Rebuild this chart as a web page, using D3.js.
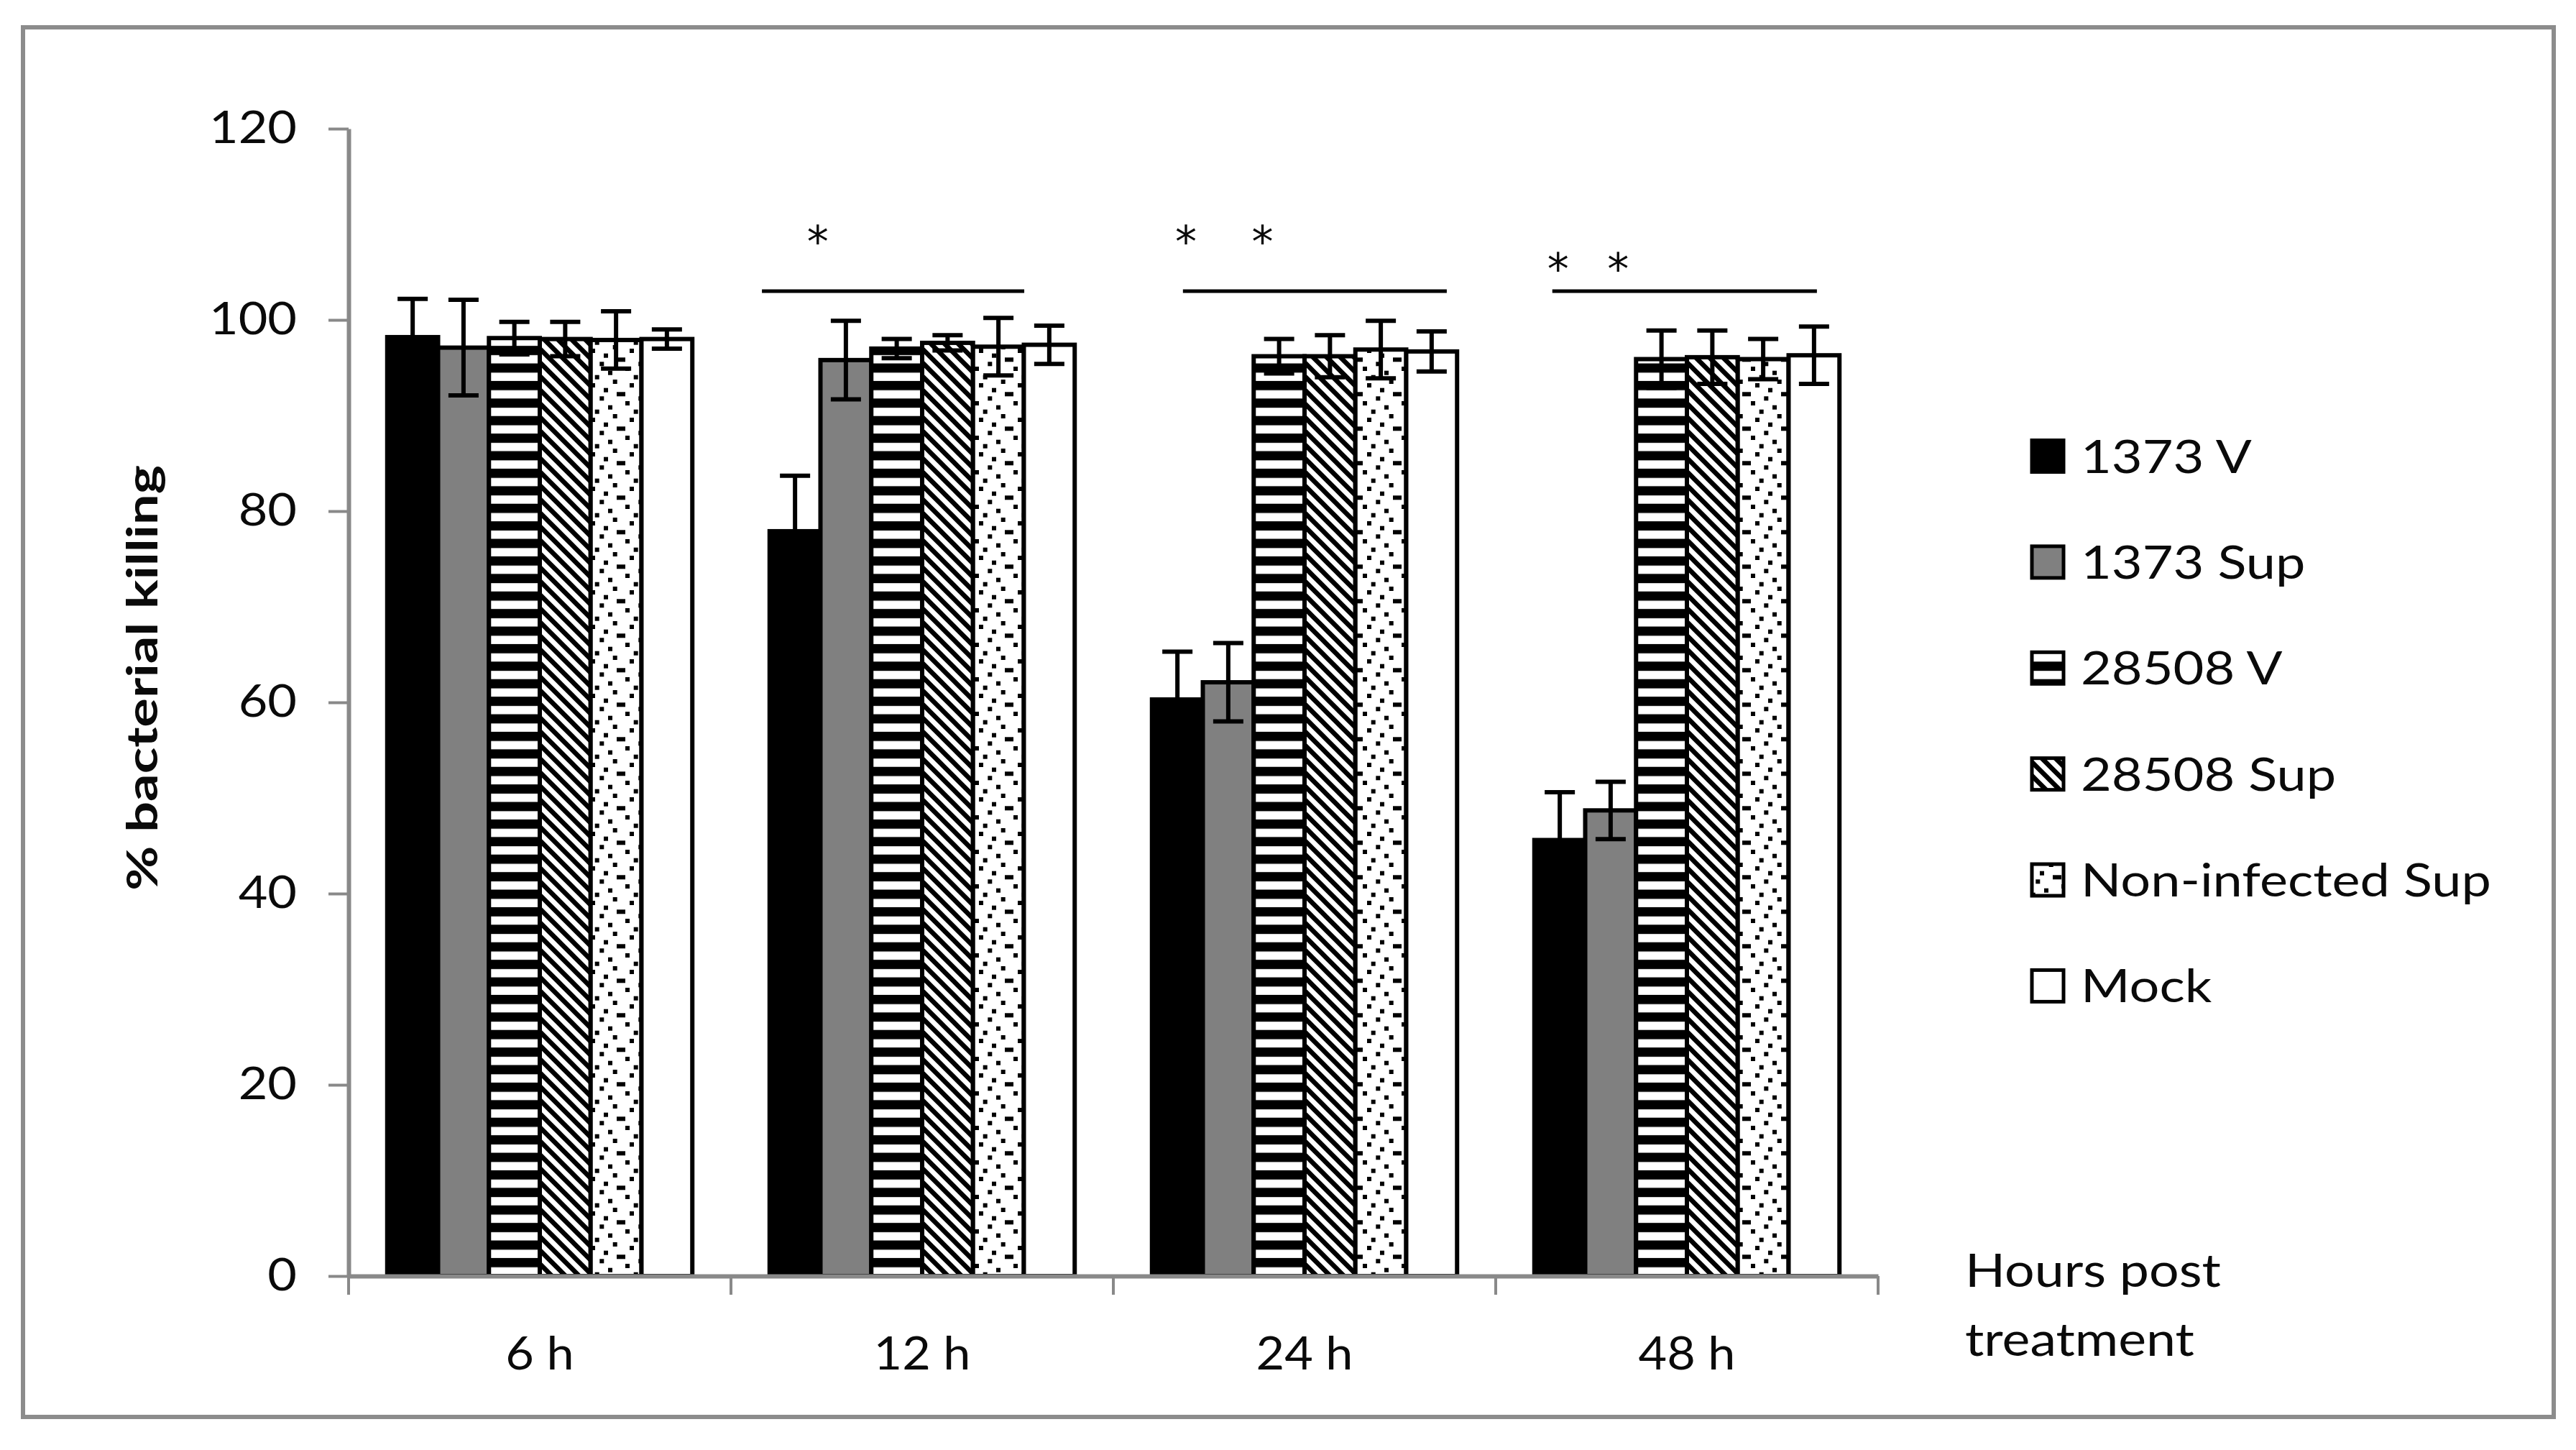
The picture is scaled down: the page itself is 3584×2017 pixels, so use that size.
<!DOCTYPE html>
<html><head><meta charset="utf-8">
<script src="https://cdn.jsdelivr.net/npm/d3@7"></script>
<style>body{margin:0;background:#fff;} svg{display:block;}</style>
</head><body>
<svg id="chart" width="3584" height="2017"></svg>
<script>
// ---------------- data ----------------
const categories = ["6 h", "12 h", "24 h", "48 h"];
const seriesNames = ["1373 V", "1373 Sup", "28508 V", "28508 Sup", "Non-infected Sup", "Mock"];
const mean1373V    = [98.2, 77.9, 60.3, 45.6];
const err1373V     = [4.0, 5.8, 5.0, 5.0];
const mean1373Sup  = [97.1, 95.8, 62.1, 48.7];
const err1373Sup   = [5.0, 4.1, 4.1, 3.0];
const mean28508V   = [98.1, 97.0, 96.2, 95.9];
const err28508V    = [1.7, 1.0, 1.8, 3.0];
const mean28508Sup = [98.0, 97.6, 96.2, 96.1];
const err28508Sup  = [1.8, 0.8, 2.2, 2.8];
const meanNonInf   = [97.9, 97.2, 96.9, 95.9];
const errNonInf    = [3.0, 3.0, 3.0, 2.1];
const meanMock     = [98.0, 97.4, 96.7, 96.3];
const errMock      = [1.0, 2.0, 2.1, 3.0];
const yTickValues  = [0, 20, 40, 60, 80, 100, 120];
const yTitle = "% bacterial killing";
const xTitleLines = ["Hours post", "treatment"];
// significance annotations (value units; span given as fraction of the category band)
const sigCategories = ["12 h", "24 h", "48 h"];
const sigLineValue  = [103.0, 103.0, 103.0];
const sigSpanStart  = [0.081, 0.182, 0.148];
const sigSpanEnd    = [0.767, 0.872, 0.840];
const sigStarValue  = [109.0, 109.0, 106.2];
const sigStarPos    = [[0.227], [0.19, 0.39], [0.163, 0.32]];

const allMeans = [mean1373V, mean1373Sup, mean28508V, mean28508Sup, meanNonInf, meanMock];
const allErrs  = [err1373V, err1373Sup, err28508V, err28508Sup, errNonInf, errMock];
const series = seriesNames.map((name, i) => ({
  name, values: categories.map((c, j) => ({cat: c, name, v: allMeans[i][j], e: allErrs[i][j]}))
}));

// ---------------- layout ----------------
const FONT = "Lato, 'Open Sans', sans-serif";
const AXIS_GRAY = "#898989";
const svg = d3.select("#chart");
svg.append("rect").attr("width", 3584).attr("height", 2017).attr("fill", "#fff");
svg.append("rect").attr("x", 32).attr("y", 38).attr("width", 3521).attr("height", 1933)
  .attr("fill", "none").attr("stroke", "#8c8c8c").attr("stroke-width", 6);

const defs = svg.append("defs");
// horizontal stripes
const pS = defs.append("pattern").attr("id", "pStripe").attr("patternUnits", "userSpaceOnUse")
  .attr("width", 20).attr("height", 24.4);
pS.append("rect").attr("width", 20).attr("height", 24.4).attr("fill", "#000");
pS.append("rect").attr("y", 6).attr("width", 20).attr("height", 11.5).attr("fill", "#fff");
// backslash diagonal hatch
const hs = 19;
const pH = defs.append("pattern").attr("id", "pHatch").attr("patternUnits", "userSpaceOnUse")
  .attr("width", hs).attr("height", hs);
pH.append("rect").attr("width", hs).attr("height", hs).attr("fill", "#fff");
pH.append("path").attr("d", `M-4,-4L${hs+4},${hs+4} M-4,${hs-4}L4,${hs+4} M${hs-4},-4L${hs+4},4`)
  .attr("stroke", "#000").attr("stroke-width", 6.6);
// sparse dots
const pD = defs.append("pattern").attr("id", "pDots").attr("patternUnits", "userSpaceOnUse")
  .attr("width", 54).attr("height", 48);
pD.append("rect").attr("width", 54).attr("height", 48).attr("fill", "#fff");
[[12,5],[42.7,0],[0,17.3],[30,11.7],[48,17.3],[24.3,23.3],[6,30],[36,35.7],[17.7,41.7]].forEach(d =>
  pD.append("rect").attr("x", d[0]).attr("y", d[1]).attr("width", 6).attr("height", 6).attr("fill", "#000"));

const fills = {
  "1373 V": "#000", "1373 Sup": "#808080", "28508 V": "url(#pStripe)",
  "28508 Sup": "url(#pHatch)", "Non-infected Sup": "url(#pDots)", "Mock": "#fff"
};

const y = d3.scaleLinear().domain([0, 120]).range([1775, 179]);
const x0 = d3.scaleBand().domain(categories).range([485, 2613]).padding(0);
const x1 = d3.scaleBand().domain(seriesNames).range([0, x0.bandwidth()]).paddingInner(0).paddingOuter(0.76);

// bars
const gBars = svg.append("g");
series.forEach(s => {
  gBars.selectAll(null).data(s.values).enter().append("rect")
    .attr("x", d => x0(d.cat) + x1(d.name))
    .attr("y", d => y(d.v))
    .attr("width", x1.bandwidth())
    .attr("height", d => y(0) - y(d.v))
    .attr("fill", fills[s.name])
    .attr("stroke", "#000").attr("stroke-width", 6);
});

// error bars
const gErr = svg.append("g").attr("stroke", "#000").attr("stroke-width", 6).attr("fill", "none");
const capW = 42;
series.forEach(s => {
  gErr.selectAll(null).data(s.values).enter().append("path")
    .attr("d", d => {
      const cx = x0(d.cat) + x1(d.name) + x1.bandwidth() / 2;
      const yt = y(d.v + d.e), yb = y(d.v - d.e);
      return `M${cx},${yt}V${yb} M${cx - capW/2},${yt}H${cx + capW/2} M${cx - capW/2},${yb}H${cx + capW/2}`;
    });
});

// helper: horizontally stretched text fit to a target width
function fitScale(sel, target) {
  const len = sel.node().getComputedTextLength();
  return target / len;
}

// y axis
const gY = svg.append("g").attr("transform", "translate(485,0)")
  .call(d3.axisLeft(y).tickValues(yTickValues).tickSize(28).tickSizeOuter(0).tickPadding(44));
gY.select(".domain").attr("stroke", AXIS_GRAY).attr("stroke-width", 6);
gY.selectAll(".tick line").attr("stroke", AXIS_GRAY).attr("stroke-width", 4);
gY.selectAll(".tick text").attr("font-family", FONT).attr("font-size", 62).attr("fill", "#0a0a0a");
const sxTick = fitScale(gY.selectAll(".tick text").filter(d => d === 120), 122);
gY.selectAll(".tick text").each(function() {
  const t = d3.select(this);
  t.attr("x", -72 / sxTick).attr("transform", `scale(${sxTick},1)`);
});

// x axis
const gX = svg.append("g").attr("transform", "translate(0,1775)")
  .call(d3.axisBottom(x0).tickSize(0).tickSizeOuter(0).tickPadding(85));
gX.select(".domain").attr("stroke", AXIS_GRAY).attr("stroke-width", 6);
gX.selectAll(".tick text").attr("font-family", FONT).attr("font-size", 64).attr("fill", "#0a0a0a");
const sxCat = fitScale(gX.selectAll(".tick text").filter(d => d === "24 h"), 135);
gX.selectAll(".tick text").attr("transform", `scale(${sxCat},1)`);
const boundaries = categories.map(c => x0(c)).concat([x0.range()[1]]);
gX.selectAll(null).data(boundaries).enter().append("line")
  .attr("x1", d => d).attr("x2", d => d).attr("y1", 0).attr("y2", 26)
  .attr("stroke", AXIS_GRAY).attr("stroke-width", 4);

// significance lines and stars
sigCategories.forEach((c, i) => {
  const bx = x0(c), bw = x0.bandwidth();
  svg.append("line")
    .attr("x1", bx + sigSpanStart[i] * bw).attr("x2", bx + sigSpanEnd[i] * bw)
    .attr("y1", y(sigLineValue[i])).attr("y2", y(sigLineValue[i]))
    .attr("stroke", "#000").attr("stroke-width", 5);
  sigStarPos[i].forEach(f => {
    svg.append("text").text("*")
      .attr("x", bx + f * bw).attr("y", y(sigStarValue[i]) + 32)
      .attr("text-anchor", "middle").attr("font-family", "DejaVu Sans").attr("font-size", 60)
      .attr("fill", "#0a0a0a");
  });
});

// y title
const gYT = svg.append("g").attr("transform", "translate(219,943) rotate(-90)");
const yT = gYT.append("text").text(yTitle).attr("text-anchor", "middle")
  .attr("font-family", FONT).attr("font-weight", 700).attr("font-size", 60).attr("fill", "#0a0a0a");
gYT.attr("transform", `translate(219,943) rotate(-90) scale(${fitScale(yT, 592)},1)`);

// x title (two lines)
const xtG = xTitleLines.map((line, i) => {
  const g = svg.append("g");
  const t = g.append("text").text(line).attr("font-family", FONT).attr("font-size", 64).attr("fill", "#0a0a0a");
  return {g, t, baseline: [1790, 1886][i]};
});
const sxHours = fitScale(xtG[0].t, 356);
xtG.forEach(o => o.g.attr("transform", `translate(2734,${o.baseline}) scale(${sxHours},1)`));

// legend
const legendRowY = d3.scalePoint().domain(seriesNames).range([634.5, 1371.4]);
const gL = svg.append("g");
const legendTexts = [];
seriesNames.forEach(name => {
  const cy = legendRowY(name);
  gL.append("rect").attr("x", 2827).attr("y", cy - 22).attr("width", 44).attr("height", 44)
    .attr("fill", fills[name]).attr("stroke", "#000").attr("stroke-width", 5);
  const g = gL.append("g");
  const t = g.append("text").text(name).attr("font-family", FONT).attr("font-size", 64).attr("fill", "#0a0a0a");
  legendTexts.push({g, t, cy});
});
const sxLeg = fitScale(legendTexts[4].t, 571);
legendTexts.forEach(o => o.g.attr("transform", `translate(2895,${o.cy + 23}) scale(${sxLeg},1)`));
</script>
</body></html>
